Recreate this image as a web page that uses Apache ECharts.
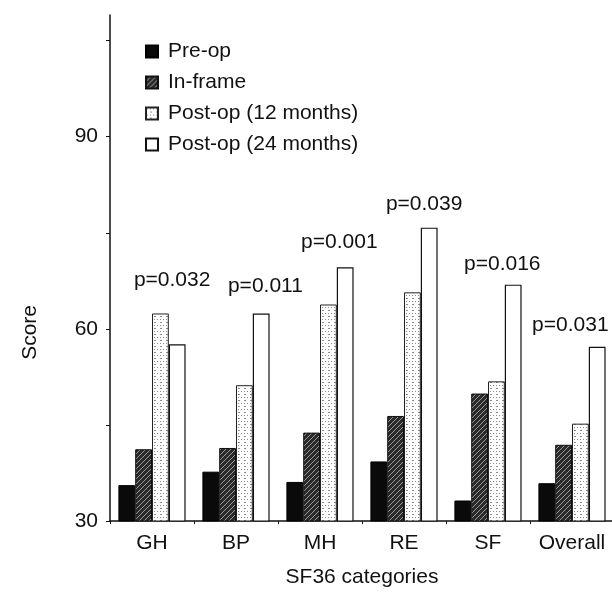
<!DOCTYPE html>
<html>
<head>
<meta charset="utf-8">
<script src="https://cdn.jsdelivr.net/npm/echarts@6/dist/echarts.min.js"></script>
<style>
  html, body { margin: 0; padding: 0; background: #fff; }
  #chart { width: 612px; height: 592px; }
</style>
</head>
<body>
<div id="chart"></div>
<script>
// SF36 scores by category
const categories = ['GH', 'BP', 'MH', 'RE', 'SF', 'Overall'];
const preOp = [35.6, 37.7, 36.1, 39.3, 33.2, 35.9];
const inFrame = [41.2, 41.4, 43.8, 46.4, 49.9, 41.9];
const post12 = [62.4, 51.2, 63.8, 65.7, 51.8, 45.2];
const post24 = [57.6, 62.4, 69.6, 75.8, 66.9, 57.2];

// p-value annotations (x in category units, y in score units)
const pLabels = ['p=0.032', 'p=0.011', 'p=0.001', 'p=0.039', 'p=0.016', 'p=0.031'];
const pLabelX = [0.24, 1.35, 2.23, 3.24, 4.17, 4.98];
const pLabelY = [67.6, 66.7, 73.5, 79.5, 70.1, 60.5];

const yTicks = [30, 60, 90];

const FONT = "'Liberation Sans', Arial, sans-serif";

// hatched fill for in-frame bars
function hatchPattern() {
  const c = document.createElement('canvas');
  c.width = 5; c.height = 5;
  const ctx = c.getContext('2d');
  ctx.fillStyle = '#2a2a2a';
  ctx.fillRect(0, 0, 5, 5);
  ctx.strokeStyle = '#9a9a9a';
  ctx.lineWidth = 1;
  ctx.beginPath();
  ctx.moveTo(0, 5); ctx.lineTo(5, 0);
  ctx.moveTo(-1, 1); ctx.lineTo(1, -1);
  ctx.moveTo(4, 6); ctx.lineTo(6, 4);
  ctx.stroke();
  return c;
}

// stippled fill for 12 month bars
function dotPattern() {
  const c = document.createElement('canvas');
  c.width = 6; c.height = 6;
  const ctx = c.getContext('2d');
  ctx.fillStyle = '#ffffff';
  ctx.fillRect(0, 0, 6, 6);
  ctx.fillStyle = '#8a8a8a';
  ctx.fillRect(1, 1, 1, 1);
  ctx.fillRect(4, 4, 2, 1);
  ctx.fillRect(4, 1, 1, 1);
  return c;
}

const chart = echarts.init(document.getElementById('chart'), null, { renderer: 'canvas' });

const barBase = {
  type: 'bar',
  barGap: '0%',
  barCategoryGap: '20%',
  xAxisIndex: 0,
  yAxisIndex: 0
};

const option = {
  animation: false,
  backgroundColor: '#fff',
  textStyle: { fontFamily: FONT },
  grid: {
    left: 110,
    top: 15,
    width: 504,
    bottom: 71,
    containLabel: false,
    outerBoundsMode: 'none'
  },
  legend: {
    orient: 'vertical',
    left: 140,
    top: 36,
    itemWidth: 12,
    itemHeight: 12,
    itemGap: 10,
    icon: 'rect',
    data: ['Pre-op', 'In-frame', 'Post-op (12 months)', 'Post-op (24 months)'],
    textStyle: { fontFamily: FONT, fontSize: 21, color: '#111', padding: [0, 0, 0, 5] }
  },
  xAxis: [
    {
      type: 'category',
      data: categories,
      name: 'SF36 categories',
      nameLocation: 'middle',
      nameGap: 46,
      nameTextStyle: { fontFamily: FONT, fontSize: 21, color: '#111' },
      axisLine: { onZero: false, lineStyle: { color: '#111', width: 1.5 } },
      axisTick: { show: true, length: 3, lineStyle: { color: '#111' } },
      axisLabel: { interval: 0, fontFamily: FONT, fontSize: 21, color: '#111', margin: 12 }
    },
    {
      type: 'value',
      min: -0.5,
      max: 5.5,
      show: false
    }
  ],
  yAxis: {
    type: 'value',
    min: 30,
    max: 109,
    interval: 15,
    splitLine: { show: false },
    axisLine: { show: true, onZero: false, lineStyle: { color: '#111', width: 1.5 } },
    axisTick: { show: true, length: 4, lineStyle: { color: '#111' } },
    axisLabel: {
      fontFamily: FONT,
      fontSize: 21,
      color: '#111',
      margin: 12,
      showMaxLabel: false,
      formatter: v => (yTicks.indexOf(v) >= 0 ? String(v) : '')
    }
  },
  graphic: [
    {
      type: 'text',
      left: 20,
      top: 305,
      rotation: Math.PI / 2,
      style: { text: 'Score', font: "21px 'Liberation Sans', Arial, sans-serif", fill: '#111' }
    }
  ],
  series: [
    Object.assign({}, barBase, {
      name: 'Pre-op',
      data: preOp,
      itemStyle: { color: '#0a0a0a', borderColor: '#000', borderWidth: 1 }
    }),
    Object.assign({}, barBase, {
      name: 'In-frame',
      data: inFrame,
      itemStyle: { color: { image: hatchPattern(), repeat: 'repeat' }, borderColor: '#111', borderWidth: 1 }
    }),
    Object.assign({}, barBase, {
      name: 'Post-op (12 months)',
      data: post12,
      itemStyle: { color: { image: dotPattern(), repeat: 'repeat' }, borderColor: '#222', borderWidth: 1 }
    }),
    Object.assign({}, barBase, {
      name: 'Post-op (24 months)',
      data: post24,
      itemStyle: { color: '#fff', borderColor: '#111', borderWidth: 1.2 }
    }),
    {
      name: 'p-values',
      type: 'scatter',
      xAxisIndex: 1,
      yAxisIndex: 0,
      symbolSize: 1,
      itemStyle: { opacity: 0 },
      silent: true,
      data: pLabelX.map((x, i) => [x, pLabelY[i]]),
      label: {
        show: true,
        position: 'inside',
        fontFamily: FONT,
        fontSize: 21,
        color: '#111',
        opacity: 1,
        textBorderWidth: 0,
        formatter: p => pLabels[p.dataIndex]
      }
    }
  ]
};

chart.setOption(option);
</script>
</body>
</html>
